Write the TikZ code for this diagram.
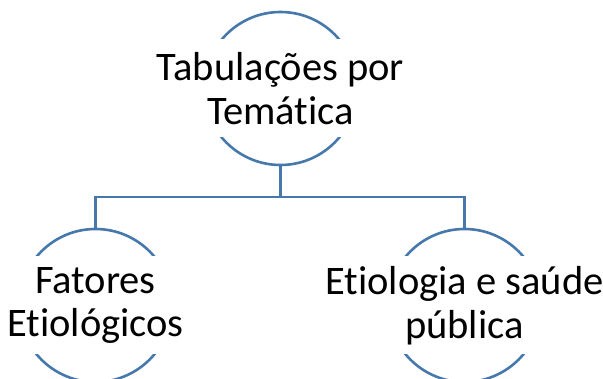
\documentclass[tikz,border=0pt]{standalone}
\usepackage{fontspec}
\setmainfont[Ligatures=NoCommon]{Carlito}
\definecolor{ringBlue}{RGB}{70,120,172}
\begin{document}
\begin{tikzpicture}[x=1pt,y=-1pt,
  ring/.style={shape=circle,draw=ringBlue,line width=2.6pt,minimum size=153pt,inner sep=0pt},
  ringText/.style={fill=white,minimum width=170pt,minimum height=98pt,inner sep=0pt,align=center,
    font=\fontsize{40.5}{43.5}\selectfont},
  link/.style={draw=ringBlue,line width=2.6pt}]
\def\dy{109};
\def\dxl{185};
\def\dxr{184};

\useasboundingbox (0,0) rectangle (603,379);

\node[ring] (T) at (280.5,88.5) {};
\node[ringText] (Tt) at (T.center) {Tabulações por\\Temática};

\node[ring] (F) at (280.5-\dxl,88.5+217) {};
\node[ringText] (Ft) at (F.center) {Fatores\\Etiológicos};

\node[ring] (E) at (280.5+\dxr,88.5+217) {};
\node[ringText] (Et) at (E.center) {Etiologia e saúde\\pública};

\coordinate (fork) at (280.5,197);
\draw[link] (T.south) -- (fork) -| (F.north);
\draw[link] (fork) -| (E.north);
\end{tikzpicture}
\end{document}
